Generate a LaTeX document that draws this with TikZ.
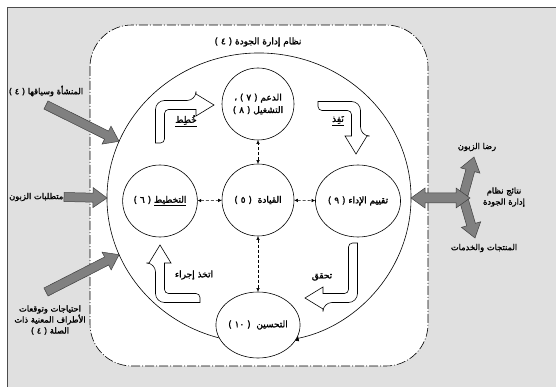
\documentclass[tikz,border=0pt]{standalone}
\usepackage{fontspec}
\newfontfamily\arabicfont[Script=Arabic, FakeBold=1.6]{DejaVu Sans}
\TeXXeTstate=1
\usetikzlibrary{shapes.geometric,arrows.meta,calc}
\newcommand\artext[1]{\beginR #1\endR}
\tikzset{
  stage/.style={ellipse, draw, fill=white, line width=0.6pt, minimum width=72pt,
    minimum height=72pt, inner sep=0pt, align=center,
    font=\arabicfont\fontsize{9}{12.5}\selectfont},
  lbl/.style={align=center, inner sep=0.5pt, font=\arabicfont\fontsize{8.3}{11}\selectfont},
  biglbl/.style={lbl, font=\arabicfont\fontsize{9}{11}\selectfont},
  link/.style={densely dashed, line width=0.5pt, {Latex[length=3.5pt,width=3.5pt]}-{Latex[length=3.5pt,width=3.5pt]}},
  hollowarr/.style={draw, fill=white, line width=0.6pt},
  grayarr/.style={draw=black!75, fill=black!50, line width=0.5pt},
  ringline/.style={line width=0.6pt, -{Triangle[length=8pt,width=6pt]}},
  dashdot/.style={line width=0.6pt, dash pattern=on 9pt off 2pt on 1pt off 2pt}
}
% block arrow from #1 to tip #2
\newcommand\grayarrow[2]{%
  \coordinate (ga-neck) at ($(#2)!14pt!(#1)$);
  \draw[grayarr] ($(#1)!4.5pt!90:(#2)$) -- ($(ga-neck)!4.5pt!90:(#2)$)
    -- ($(ga-neck)!10pt!90:(#2)$) -- (#2) -- ($(ga-neck)!10pt!-90:(#2)$)
    -- ($(ga-neck)!4.5pt!-90:(#2)$) -- ($(#1)!4.5pt!-90:(#2)$) -- cycle;}

\begin{document}
\begin{tikzpicture}[x=1pt,y=-1pt]
\useasboundingbox (0,0) rectangle (556,387);
\clip (0,0) rectangle (556,387);
\fill[white] (0,0) rectangle (556,387);
\draw[fill=black!12, draw=black!70, line width=0.8pt] (7,7) rectangle (580,400);
\draw[dashdot, fill=white, rounded corners=42pt] (90,25) rectangle (428,366);

% ring of the cycle
\coordinate (ring) at (259,198);
\coordinate (ring-nw) at ($(ring)+(203:152 and 145)$);
\coordinate (ring-w) at ($(ring)+(180:152 and 145)$);
\coordinate (ring-sw) at ($(ring)+(157:152 and 145)$);
\coordinate (ring-e) at ($(ring)+(0:152 and 145)$);
\draw[ringline] ($(ring)+(102:152 and 145)$) arc[start angle=102, end angle=438, x radius=152, y radius=145];

\node[biglbl] (qms) at (258,42) {\artext{نظام إدارة الجودة ( ٤ )}};

% stages
\node[stage] (support) at (258,104) {\artext{الدعم ( ٧ ) ،}\\\artext{التشغيل ( ٨ )}};
\node[stage] (plan) at (160,201) {\artext{\underline{التخطيط} ( ٦ )}};
\node[stage] (lead) at (258,200) {\artext{القيادة\ \ ( ٥ )}};
\node[stage] (perf) at (358,201) {\artext{تقييم الإداء ( ٩ )}};
\node[stage, minimum height=66pt] (improve) at (258,325) {\artext{التحسين\ \ ( ١٠ )}};

\draw[link] (plan) -- (lead);
\draw[link] (lead) -- (perf);
\draw[link] (lead) -- (support);
\draw[link] (lead) -- (improve);

% PDCA arrows
\draw[hollowarr] (155.5,143) [rounded corners=9pt] -- (155.5,100.5) -- (196,100.5) [sharp corners] -- (196,94) -- (214,105) -- (196,116) -- (196,109.5) [rounded corners=4pt] -- (164.5,109.5) -- (164.5,143) [sharp corners] -- cycle;
\draw[hollowarr] (318,101.5) [rounded corners=9pt] -- (360.5,101.5) -- (360.5,136) [sharp corners] -- (367,136) -- (356,154) -- (345,136) -- (351.5,136) [rounded corners=4pt] -- (351.5,110.5) -- (318,110.5) [sharp corners] -- cycle;
\draw[hollowarr] (357.5,243) [rounded corners=9pt] -- (357.5,302.5) -- (323,302.5) [sharp corners] -- (323,309) -- (305,298) -- (323,287) -- (323,293.5) [rounded corners=4pt] -- (348.5,293.5) -- (348.5,243) [sharp corners] -- cycle;
\draw[hollowarr] (200,302.5) [rounded corners=9pt] -- (155.5,302.5) -- (155.5,263) [sharp corners] -- (149,263) -- (160,245) -- (171,263) -- (164.5,263) [rounded corners=4pt] -- (164.5,293.5) -- (200,293.5) [sharp corners] -- cycle;

\node[biglbl] (lblplan) at (186,121) {\artext{\underline{خُطِط}}};
\node[biglbl] (lbldo) at (338,121) {\artext{\underline{نَفِذ}}};
\node[biglbl] (lblcheck) at (322,277) {\artext{تحقق}};
\node[biglbl] (lblact) at (194,275) {\artext{اتخذ إجراء}};

% inputs
\node[lbl] (ctx) at (46,91) {\artext{المنشأة وسياقها ( ٤ )}};
\node[lbl, anchor=east] (req) at (64,197) {\artext{متطلبات الزبون}};
\node[lbl] (needs) at (50,320) {\artext{احتياجات وتوقعات}\\\artext{الأطراف المعنية ذات}\\\artext{الصلة ( ٤ )}};
\coordinate (ctx-tail) at (46,105);
\coordinate (needs-tail) at (46,292);
\grayarrow{ctx-tail}{ring-nw}
\grayarrow{req.east}{ring-w}
\grayarrow{needs-tail}{ring-sw}

% outputs
\coordinate (out-hub) at (470,198);
\coordinate (hub-up) at (463,197);
\coordinate (sat-tip) at (474,157);
\coordinate (prod-tip) at (475,238);
\grayarrow{hub-up}{sat-tip}
\grayarrow{hub-up}{prod-tip}
\draw[grayarr] (ring-e) -- ++(14,-10) -- ++(0,5) -- ($(out-hub)+(-14,-5)$) -- ++(0,-5) -- (out-hub)
  -- ++(-14,10) -- ++(0,-5) -- ($(ring-e)+(14,5)$) -- ++(0,5) -- cycle;
\node[lbl] (sat) at (477,147) {\artext{رضا الزبون}};
\node[lbl] (res) at (504,197) {\artext{نتائج نظام}\\\artext{إدارة الجودة}};
\node[lbl] (prod) at (484,248) {\artext{المنتجات والخدمات}};
\end{tikzpicture}
\end{document}
